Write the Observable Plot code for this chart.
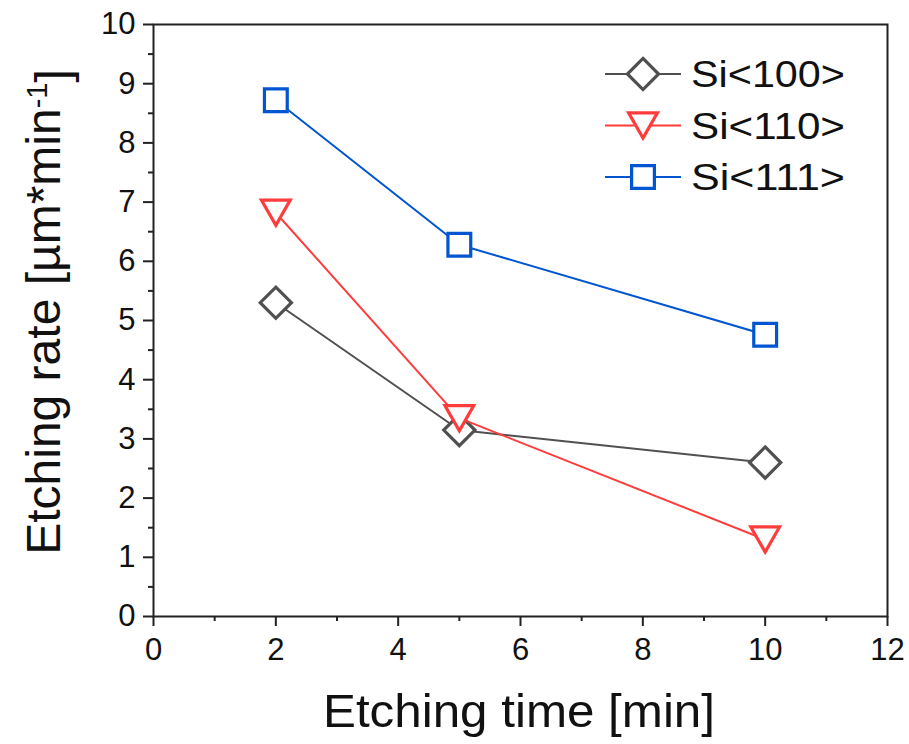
<!DOCTYPE html>
<html>
<head>
<meta charset="utf-8">
<script src="https://cdn.jsdelivr.net/npm/d3@7"></script>
<script src="https://cdn.jsdelivr.net/npm/@observablehq/plot@0.6"></script>
<style>
  html, body { margin: 0; padding: 0; background: #fff; }
  #chart svg { display: block; }
</style>
</head>
<body>
<div id="chart"></div>
<script>
// ---- data ----
const times = [2, 5, 10];
const seriesNames = ["Si<100>", "Si<110>", "Si<111>"];
const si100 = [5.3, 3.15, 2.6];
const si110 = [6.82, 3.35, 1.3];
const si111 = [8.72, 6.28, 4.76];
const seriesValues = [si100, si110, si111];
const seriesColors = ["#505050", "#ff3c3c", "#0055d0"];
const xTicks = [0, 2, 4, 6, 8, 10, 12];
const xMinorTicks = [1, 3, 5, 7, 9, 11];
const yTicks = [0, 1, 2, 3, 4, 5, 6, 7, 8, 9, 10];
const yMinorTicks = [0.5, 1.5, 2.5, 3.5, 4.5, 5.5, 6.5, 7.5, 8.5, 9.5];
const xLabel = "Etching time [min]";
const yLabelMain = "Etching rate [µm*min";
const yLabelSup = "-1";
const yLabelEnd = "]";

// ---- custom symbols ----
const diamondSym = {draw(ctx, size) {
  const r = Math.sqrt(size / Math.PI), h = r * 1.3;
  ctx.moveTo(0, -h); ctx.lineTo(h, 0); ctx.lineTo(0, h); ctx.lineTo(-h, 0); ctx.closePath();
}};
const triDownSym = {draw(ctx, size) {
  const r = Math.sqrt(size / Math.PI), w = r * 1.2, h = r * 1.05;
  ctx.moveTo(-w, -h); ctx.lineTo(w, -h); ctx.lineTo(0, h); ctx.closePath();
}};
const squareSym = {draw(ctx, size) {
  const r = Math.sqrt(size / Math.PI), s = r * 0.95;
  ctx.moveTo(-s, -s); ctx.lineTo(s, -s); ctx.lineTo(s, s); ctx.lineTo(-s, s); ctx.closePath();
}};
const symbols = [diamondSym, triDownSym, squareSym];
const R = 12;

const rows = seriesNames.map((name, i) =>
  times.map((t, j) => ({series: name, time: t, rate: seriesValues[i][j]})));

const font = "'Liberation Sans', Arial, Helvetica, sans-serif";

const marks = [
  Plot.axisX({ticks: xMinorTicks, tickSize: 5, tickFormat: () => "", stroke: "#222", strokeWidth: 2, label: null}),
  Plot.axisY({ticks: yMinorTicks, tickSize: 5, tickFormat: () => "", stroke: "#222", strokeWidth: 2, label: null}),
  Plot.axisX({ticks: xTicks, tickSize: 10, tickPadding: 11, fontSize: 31, fill: "#111", stroke: "#222", strokeWidth: 2, label: null}),
  Plot.axisY({ticks: yTicks, tickSize: 10, tickPadding: 8, fontSize: 31, fill: "#111", stroke: "#222", strokeWidth: 2, label: null}),
];
rows.forEach((data, i) => {
  marks.push(Plot.line(data, {x: "time", y: "rate", stroke: seriesColors[i], strokeWidth: 2}));
  marks.push(Plot.dot(data, {x: "time", y: "rate", symbol: symbols[i], r: R, stroke: seriesColors[i], strokeWidth: 3.2, fill: "white"}));
});
marks.push(Plot.frame({stroke: "#222", strokeWidth: 2}));

const chart = Plot.plot({
  width: 909,
  height: 744,
  marginLeft: 153,
  marginRight: 22,
  marginTop: 24,
  marginBottom: 128,
  x: {domain: [0, 12]},
  y: {domain: [0, 10]},
  style: {fontFamily: font, fontSize: "31px", background: "white", color: "#111"},
  marks
});
document.getElementById("chart").appendChild(chart);

const svg = d3.select(chart);

// ---- axis titles and legend ----
svg.append("text")
  .attr("x", 519).attr("y", 727)
  .attr("text-anchor", "middle")
  .attr("textLength", 392).attr("lengthAdjust", "spacingAndGlyphs")
  .style("font-family", font).style("font-size", "47px").attr("fill", "#111")
  .text(xLabel);

const yl = svg.append("text")
  .attr("transform", "translate(60,312) rotate(-90)")
  .attr("text-anchor", "middle")
  .style("font-family", font).style("font-size", "48px").attr("fill", "#111");
yl.append("tspan").text(yLabelMain);
yl.append("tspan").attr("dy", "-0.45em").style("font-size", "29px").text(yLabelSup);
yl.append("tspan").attr("dy", "0.45em").text(yLabelEnd);

const lg = svg.append("g");
seriesNames.forEach((name, i) => {
  const cy = 74 + i * 51.5;
  const g = lg.append("g").attr("transform", `translate(0,${cy})`);
  g.append("line").attr("x1", 605).attr("x2", 681).attr("y1", 0).attr("y2", 0)
    .attr("stroke", seriesColors[i]).attr("stroke-width", 2);
  g.append("path").attr("transform", "translate(643,0)")
    .attr("d", d3.symbol(symbols[i], Math.PI * R * R)())
    .attr("fill", "white").attr("stroke", seriesColors[i]).attr("stroke-width", 3.2);
  g.append("text").attr("x", 691).attr("y", 0).attr("dy", "0.36em")
    .attr("text-anchor", "start")
    .attr("textLength", 154).attr("lengthAdjust", "spacingAndGlyphs")
    .style("font-family", font).style("font-size", "37px").attr("fill", "#111")
    .text(name);
});
</script>
</body>
</html>
